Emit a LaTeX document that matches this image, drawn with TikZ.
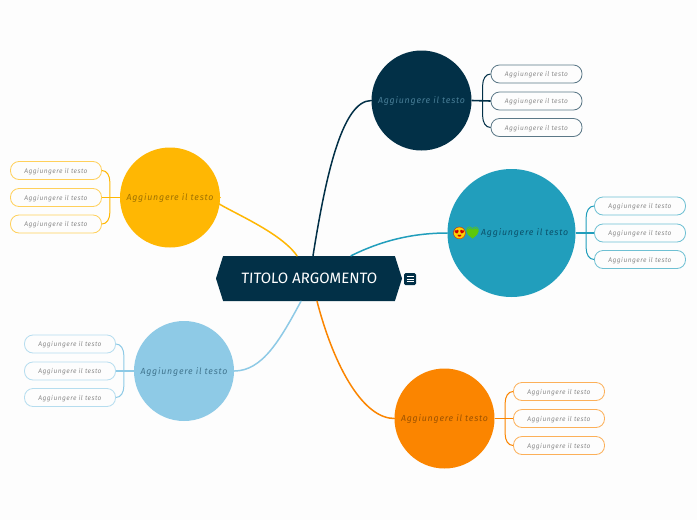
\documentclass[tikz,border=0pt]{standalone}
\usepackage{fontspec}
\setmainfont{Fira Sans}
\newfontfamily\emojifont{Noto Emoji}
\usetikzlibrary{shapes.symbols,calc}
\definecolor{navy}{HTML}{023047}
\definecolor{teal}{HTML}{219EBC}
\definecolor{amber}{HTML}{FFB703}
\definecolor{sky}{HTML}{8ECAE6}
\definecolor{orng}{HTML}{FB8500}
\definecolor{bgc}{HTML}{FDFDFD}
\definecolor{lime}{HTML}{5CC80A}
\tikzset{
  x=1pt,y=-1pt,
  topicb/.style={circle,fill=#1,draw=none,inner sep=0pt,minimum size=100pt,font=\itshape\fontsize{8.8pt}{10pt}\selectfont\addfontfeature{LetterSpace=9},text=black!38!#1,text depth=-0.8pt},
  pill/.style={draw=#1!65!white,fill=bgc,line width=0.8pt,rounded corners=8.5pt,minimum width=91pt,minimum height=18pt,inner sep=0pt,font=\itshape\fontsize{6.6pt}{8pt}\selectfont\addfontfeature{LetterSpace=7},text=black!45,text depth=-0.6pt},
  link/.style={draw=#1,line width=1.5pt,line cap=round},
  brk/.style={draw=#1,line width=1pt},
  trunk/.style={draw=#1,line width=1.6pt},
  hubnode/.style={signal,signal to=east and west,signal pointer angle=145,fill=navy,text=white,inner sep=0pt,minimum width=186pt,minimum height=45pt,font=\fontsize{15pt}{17pt}\selectfont\addfontfeature{FakeSlant=0.05},},
}
\begin{document}
\begin{tikzpicture}
\useasboundingbox (0,0) rectangle (697,520);
\fill[bgc] (0,0) rectangle (697,520);
% central
\node[hubnode] (hub) at (309,278.5) {TITOLO ARGOMENTO};
\node[fill=navy,rounded corners=1.5pt,minimum size=12pt,inner sep=0pt] (icon) at (410,279) {};
\draw[white,line width=0.8pt] (406.5,276.5) -- (413.5,276.5) (406.5,279) -- (413.5,279) (406.5,281.5) -- (413.5,281.5);
% topics
\node[topicb=navy,text=sky!50!navy] (t1) at (421.5,100.5) {Aggiungere il testo};
\node[topicb=teal,minimum size=128pt] (t2) at (511.5,233) {};
\node[anchor=west,inner sep=0pt,font=\itshape\fontsize{8.8pt}{10pt}\selectfont\addfontfeature{LetterSpace=9},text=navy!70!teal] (t2txt) at (481,233) {Aggiungere il testo};
\node[circle,fill=yellow!70!orange,inner sep=0pt,minimum size=12pt] (em1bg) at (459.5,233) {};
\node[inner sep=0pt,text=red!80!black,font=\emojifont\fontsize{12pt}{12pt}\selectfont] (em1) at (459.5,233) {😍};
\fill[lime] (472.5,238.5) .. controls (468,235) and (466.5,233.5) .. (466.5,231.5) .. controls (466.5,228.5) and (471,227.5) .. (472.5,230) .. controls (474,227.5) and (478.5,228.5) .. (478.5,231.5) .. controls (478.5,233.5) and (477,235) .. (472.5,238.5) -- cycle;
\node[inner sep=0pt,text=lime,font=\emojifont\fontsize{11pt}{11pt}\selectfont] (em2) at (472.5,233) {💚};
\node[topicb=amber] (t3) at (170,197.5) {Aggiungere il testo};
\node[topicb=sky,text=sky!45!navy] (t4) at (184,371) {Aggiungere il testo};
\node[topicb=orng] (t5) at (444.5,418.5) {Aggiungere il testo};
% children
\foreach \n/\x/\ya/\yb/\yc/\c in {a/536.5/74/101/127.5/navy,b/640/206/233/259.5/teal,c/56/170.5/197.5/224/amber,d/70/344/371/397.5/sky,e/559/391.5/418.5/445.5/orng}{
  \node[pill=\c] (\n1) at (\x,\ya) {Aggiungere il testo};
  \node[pill=\c] (\n2) at (\x,\yb) {Aggiungere il testo};
  \node[pill=\c] (\n3) at (\x,\yc) {Aggiungere il testo};
}
% main connectors
\draw[link=navy] ([xshift=4pt]hub.north) .. controls +(12,-75) and +(-30,0) .. (t1.west);
\draw[link=teal] ([xshift=42pt]hub.north) .. controls +(34,-17) and +(-30,0) .. (t2.west);
\draw[link=amber] ([xshift=-12pt]hub.north) .. controls +(-22,-32) and +(-30,0) .. (t3.east);
\draw[link=sky] ([xshift=-8pt]hub.south) .. controls +(-21,39) and +(28,0) .. (t4.east);
\draw[link=orng] ([xshift=8pt]hub.south) .. controls +(18,69) and +(-30,0) .. (t5.west);
% brackets right side
\foreach \t/\n/\c in {t1/a/navy,t2/b/teal,t5/e/orng}{
  \draw[trunk=\c] (\t.east) -- (\n2.west);
  \draw[brk=\c] (\n1.west) .. controls +(-5,0) and +(0,-7) .. ($(\n1.west)+(-8,12)$) -- ($(\n3.west)+(-8,-12)$) .. controls +(0,7) and +(-5,0) .. (\n3.west);
}
% brackets left side
\foreach \t/\n/\c in {t3/c/amber,t4/d/sky}{
  \draw[trunk=\c] (\t.west) -- (\n2.east);
  \draw[brk=\c] (\n1.east) .. controls +(5,0) and +(0,-7) .. ($(\n1.east)+(8,12)$) -- ($(\n3.east)+(8,-12)$) .. controls +(0,7) and +(5,0) .. (\n3.east);
}
\end{tikzpicture}
\end{document}
